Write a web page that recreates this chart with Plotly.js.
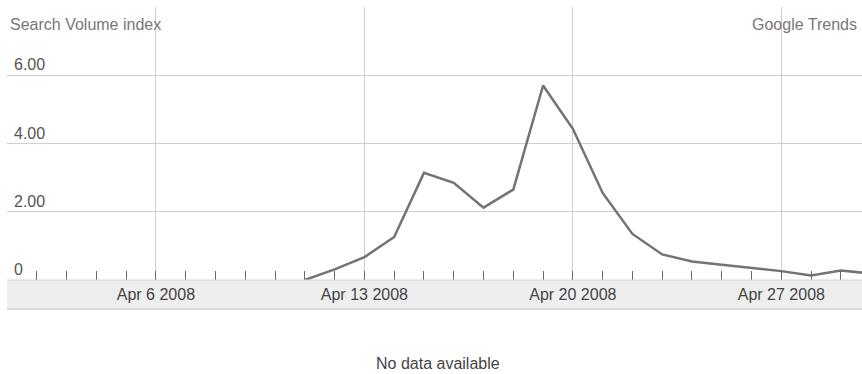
<!DOCTYPE html>
<html>
<head>
<meta charset="utf-8">
<script src="https://cdn.plot.ly/plotly-3.0.1.min.js"></script>
<style>html,body{margin:0;padding:0;background:#fff;}#chart{width:862px;height:374px;}</style>
</head>
<body>
<div id="chart"></div>
<script>
// Data
const dates = ['2008-04-11','2008-04-12','2008-04-13','2008-04-14','2008-04-15','2008-04-16','2008-04-17','2008-04-18','2008-04-19','2008-04-20','2008-04-21','2008-04-22','2008-04-23','2008-04-24','2008-04-25','2008-04-26','2008-04-27','2008-04-28','2008-04-29','2008-04-30'];
const searchVolume = [0, 0.31, 0.67, 1.26, 3.14, 2.85, 2.12, 2.65, 5.70, 4.43, 2.55, 1.35, 0.75, 0.54, 0.45, 0.36, 0.26, 0.13, 0.28, 0.19];
const xTickVals = ['2008-04-06','2008-04-13','2008-04-20','2008-04-27'];
const xTickText = ['Apr 6 2008','Apr 13 2008','Apr 20 2008','Apr 27 2008'];
const yTickVals = [0, 2, 4, 6];
const yTickText = ['0', '2.00', '4.00', '6.00'];
const yAxisTitle = 'Search Volume index';
const sourceLabel = 'Google Trends';
const noDataText = 'No data available';

const FONT = 'Liberation Sans, Arial, sans-serif';
const FS = 16;
const plotH = 374 - 7 - 94;

const trace = {
  x: dates, y: searchVolume, type: 'scatter', mode: 'lines',
  line: {color: '#737373', width: 2.5}, hoverinfo: 'skip'
};

// y tick labels drawn inside the plot, above each gridline
const yLabelAnnotations = yTickVals.map((v, i) => ({
  text: yTickText[i], xref: 'paper', yref: 'y', x: 5/855, y: v,
  xanchor: 'left', yanchor: 'bottom', showarrow: false,
  font: {family: FONT, size: FS, color: '#555'}
}));

const layout = {
  width: 862, height: 374,
  margin: {l: 7, r: 0, t: 7, b: 94},
  paper_bgcolor: '#fff', plot_bgcolor: '#fff',
  showlegend: false,
  font: {family: FONT, size: FS, color: '#555'},
  xaxis: {
    type: 'date',
    range: ['2008-04-01', '2008-04-29 17:00'],
    tickvals: xTickVals, ticktext: xTickText,
    ticks: 'inside', ticklen: 9, tickcolor: '#666', tickwidth: 1,
    showgrid: true, gridcolor: '#cfcfcf', gridwidth: 1,
    showline: false, zeroline: false,
    tickfont: {family: FONT, size: FS, color: '#444'},
    ticklabelstandoff: 3,
    minor: {dtick: 86400000, tick0: '2008-04-02', ticks: 'inside', ticklen: 9, tickcolor: '#666', tickwidth: 1, showgrid: false},
    fixedrange: true
  },
  yaxis: {
    range: [0, 8],
    tickvals: yTickVals,
    showticklabels: false,
    ticks: '', showgrid: true, gridcolor: '#cfcfcf', gridwidth: 1,
    zeroline: false, showline: false,
    fixedrange: true
  },
  shapes: [
    {type: 'rect', xref: 'paper', yref: 'paper', x0: 0, x1: 1, y0: -29/plotH, y1: 0, fillcolor: '#eeeeee', line: {width: 0}, layer: 'below'},
    {type: 'line', xref: 'paper', yref: 'paper', x0: 0, x1: 1, y0: 0, y1: 0, line: {color: '#d6d6d6', width: 1}},
    {type: 'line', xref: 'paper', yref: 'paper', x0: 0, x1: 1, y0: -29/plotH, y1: -29/plotH, line: {color: '#d0d0d0', width: 1.5}}
  ],
  annotations: yLabelAnnotations.concat([
    {text: yAxisTitle, xref: 'paper', yref: 'paper', x: 1/855, y: 1 - 18/plotH, xanchor: 'left', yanchor: 'middle', showarrow: false, font: {family: FONT, size: FS, color: '#777'}},
    {text: sourceLabel, xref: 'paper', yref: 'paper', x: 1 - 3/855, y: 1 - 18/plotH, xanchor: 'right', yanchor: 'middle', showarrow: false, font: {family: FONT, size: FS, color: '#777'}},
    {text: noDataText, xref: 'paper', yref: 'paper', x: (438-7)/855, y: -(363-280)/plotH, xanchor: 'center', yanchor: 'middle', showarrow: false, font: {family: FONT, size: FS, color: '#444'}}
  ])
};

Plotly.newPlot('chart', [trace], layout, {displayModeBar: false, staticPlot: true});
</script>
</body>
</html>
